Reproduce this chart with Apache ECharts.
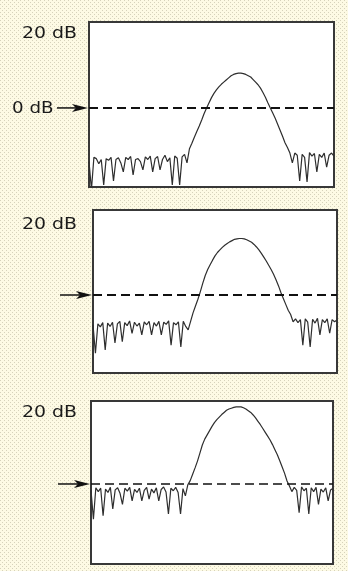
<!DOCTYPE html>
<html>
<head>
<meta charset="utf-8">
<script src="https://cdn.jsdelivr.net/npm/echarts@6/dist/echarts.min.js"></script>
<style>
html,body{margin:0;padding:0;background:#f6f3df;}
#chart{width:348px;height:571px;}
</style>
</head>
<body>
<div id="chart"></div>
<script>
// Sample positions across each display (0 = left edge, 100 = right edge)
const samples = Array.from({length: 101}, (_, i) => String(i));

// Level labels
const topLabels = ['20 dB', '20 dB', '20 dB'];
const refLabels = ['0 dB', '', ''];
const refLevel = 0;

// Trace levels in dB relative to the reference line
const trace1 = [
  -12.5, -19, -11.5, -11.8, -13, -12, -17.9, -11.8, -12.2, -11.5,
  -17, -12, -11.6, -12.8, -14.9, -11.5, -12, -11.3, -15.6, -12,
  -11.8, -12.5, -14.4, -11.4, -12, -11.2, -14.9, -11.8, -11.3, -14.4,
  -12, -11, -12.5, -11.6, -17.9, -11.2, -11.7, -17.9, -11.4, -10.8,
  -12.8, -9.5, -8.2, -6.8, -5.5, -4.2, -2.8, -1.3, 0, 1.2,
  2.4, 3.4, 4.2, 4.9, 5.5, 6.0, 6.5, 7.0, 7.5, 7.8,
  8.0, 8.1, 8.1, 8.0, 7.8, 7.5, 7.2, 6.6, 6.0, 5.4,
  4.6, 3.6, 2.5, 1.2, 0.0, -1.2, -2.4, -3.8, -5.2, -6.6,
  -8.1, -9.2, -10.5, -12.8, -10.5, -11, -17, -10.8, -11.5, -17.2,
  -10.4, -11.2, -10.6, -14.9, -10.8, -11.5, -10.5, -13.8, -11, -10.5,
  -11.2
];
const trace2 = [
  -7, -13.7, -6.8, -7.5, -6.5, -12.9, -6.6, -7.4, -6.4, -11.3,
  -6.8, -6.2, -11, -6.5, -7.2, -6.1, -9, -6.4, -7.3, -6.6,
  -9.4, -6.3, -7, -6.2, -9.4, -6.5, -7.3, -6.2, -9.4, -6.4,
  -6.9, -6.1, -11.8, -6.5, -7, -6.3, -12.2, -6.2, -7.4, -8.2,
  -6.2, -4.2, -2.6, -1.0, 0.8, 2.8, 4.6, 6.0, 7.1, 8.2,
  9.2, 10.0, 10.6, 11.2, 11.7, 12.1, 12.5, 12.8, 13.1, 13.2,
  13.3, 13.3, 13.2, 13.0, 12.7, 12.4, 11.9, 11.3, 10.6, 9.8,
  8.9, 8.0, 7.0, 6.0, 4.9, 3.6, 2.2, 0.6, -0.8, -2.2,
  -3.6, -4.6, -6.3, -5.6, -6.5, -5.8, -11.8, -5.6, -6.4, -12.2,
  -5.7, -6.6, -5.5, -9.4, -5.8, -6.5, -5.6, -9, -5.8, -6.3,
  -5.9
];
const trace3 = [
  -1.5, -8.3, -0.9, -1.8, -1.0, -7.5, -1.2, -2.0, -0.8, -5.9,
  -1.4, -0.9, -2.2, -4.8, -1.0, -1.7, -0.8, -4.0, -1.3, -2.0,
  -1.0, -4.0, -1.5, -0.8, -3.6, -1.2, -2.1, -0.9, -4.0, -1.3,
  -0.7, -1.9, -7.1, -1.0, -1.6, -0.8, -2.0, -7.1, -1.1, -2.8,
  -0.2, 0.8, 2.3, 3.8, 5.4, 7.3, 9.2, 10.6, 11.6, 12.6,
  13.6, 14.5, 15.2, 15.8, 16.4, 16.9, 17.4, 17.7, 17.9, 18.1,
  18.2, 18.2, 18.2, 18.0, 17.7, 17.3, 16.9, 16.3, 15.6, 14.8,
  14.0, 13.1, 12.2, 11.3, 10.4, 9.3, 8.1, 6.9, 5.5, 4.0,
  2.5, 0.7, -0.5, -1.8, -0.8, -1.5, -6.8, -0.7, -1.6, -1.0,
  -7.1, -0.9, -1.8, -0.8, -4.8, -1.2, -1.9, -0.9, -4.0, -1.4,
  -1.0
];
const traces = [trace1, trace2, trace3];

// Layout (pixels) per panel
const grids = [
  {left: 89, top: 22, width: 245, height: 165},
  {left: 93, top: 210, width: 244, height: 163},
  {left: 91, top: 401, width: 242, height: 163}
];
const yRanges = [[-18.4, 20], [-18.35, 20], [-18.9, 19.6]];
const dashWidths = [2, 2, 1.5];
const topLabelPos = [[22, 34], [22, 225], [22, 413]];
const refLabelPos = [[12, 109]];
const arrowStart = [57, 60, 58];

// dotted paper background
const pc = document.createElement('canvas');
pc.width = 4; pc.height = 4;
const g = pc.getContext('2d');
g.fillStyle = '#fdfae4'; g.fillRect(0, 0, 4, 4);
g.fillStyle = '#d6d2bb'; g.fillRect(0, 0, 1, 1); g.fillRect(2, 2, 1, 1);

const chart = echarts.init(document.getElementById('chart'), null, {renderer: 'canvas'});

const option = {
  animation: false,
  backgroundColor: '#f6f3df',
  grid: grids.map(gr => Object.assign({
    show: true, backgroundColor: '#ffffff', borderColor: '#383838', borderWidth: 2, containLabel: false
  }, gr)),
  xAxis: grids.map((_, i) => ({
    type: 'category', gridIndex: i, data: samples, boundaryGap: false, show: false
  })),
  yAxis: grids.map((_, i) => ({
    type: 'value', gridIndex: i, min: yRanges[i][0], max: yRanges[i][1], show: false
  })),
  series: traces.map((t, i) => ({
    type: 'line', xAxisIndex: i, yAxisIndex: i, data: t,
    showSymbol: false, symbol: 'none', clip: true,
    lineStyle: {color: '#2e2e2e', width: 1.2},
    markLine: {
      silent: true, symbol: 'none', label: {show: false},
      lineStyle: {color: '#111', width: dashWidths[i], type: [9, 5]},
      data: [{yAxis: refLevel}]
    }
  }))
};
chart.setOption(option);

const graphics = [{
  type: 'rect', z: -100, silent: true,
  shape: {x: 0, y: 0, width: 348, height: 571},
  style: {fill: {image: pc, repeat: 'repeat'}}
}];
grids.forEach((gr, i) => {
  const y0 = chart.convertToPixel({yAxisIndex: i}, refLevel);
  const tip = gr.left - 1;
  graphics.push({
    type: 'line', z: 10, silent: true,
    shape: {x1: arrowStart[i], y1: y0, x2: tip - 6, y2: y0},
    style: {stroke: '#111', lineWidth: 1.5}
  });
  graphics.push({
    type: 'polygon', z: 10, silent: true,
    shape: {points: [[tip, y0], [tip - 16, y0 - 4], [tip - 12, y0], [tip - 16, y0 + 4]]},
    style: {fill: '#111'}
  });
  graphics.push({
    type: 'text', z: 10, silent: true,
    x: topLabelPos[i][0], y: topLabelPos[i][1], scaleX: 1.18,
    style: {text: topLabels[i], x: 0, y: 0, fill: '#1a1a1a',
      font: '16px "DejaVu Sans"', textVerticalAlign: 'middle', textAlign: 'left'}
  });
  if (refLabels[i]) {
    graphics.push({
      type: 'text', z: 10, silent: true,
      x: refLabelPos[i][0], y: refLabelPos[i][1], scaleX: 1.14,
      style: {text: refLabels[i], x: 0, y: 0, fill: '#1a1a1a',
        font: '16px "DejaVu Sans"', textVerticalAlign: 'middle', textAlign: 'left'}
    });
  }
});
chart.setOption({graphic: graphics});
</script>
</body>
</html>
